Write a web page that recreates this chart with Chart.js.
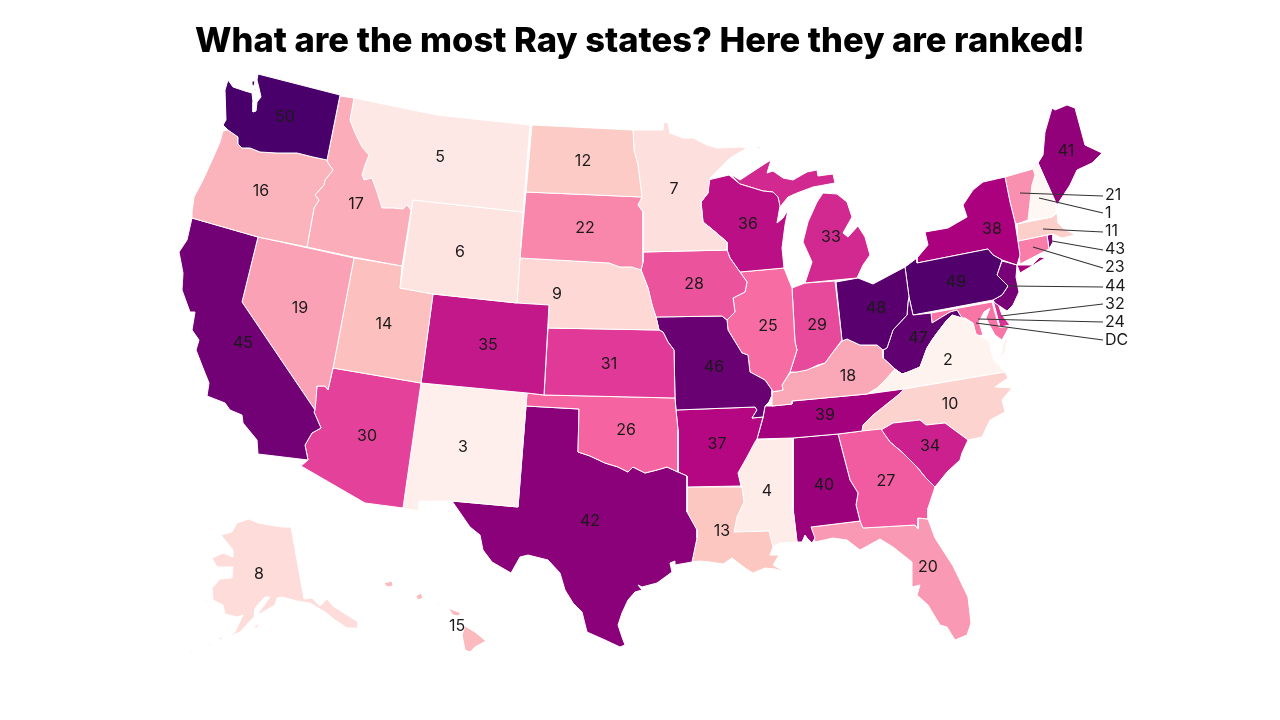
<!DOCTYPE html>
<html lang="en">
<head>
  <meta charset="UTF-8" />
  <title>Most Ray states</title>
  <script src="https://cdn.jsdelivr.net/npm/chart.js"></script>
  <style>
    html, body { margin: 0; background: #fff; }
    #wrap { position: relative; width: 1280px; height: 720px; overflow: hidden; }
    h1 { position: absolute; left: 0; top: 18px; width: 1280px; margin: 0; text-align: center;
         font: 800 34.5px Inter, "Open Sans", sans-serif; line-height: 44px; color: #000; }
  </style>
</head>
<body>
  <div id="wrap">
    <canvas id="map" width="1280" height="720"></canvas>
    <h1>What are the most Ray states? Here they are ranked!</h1>
  </div>
  <script>
    // Ranks
    const states = ['WA','OR','CA','ID','MT','WY','NV','UT','CO','AZ','NM','ND','SD','NE','KS','OK','TX','MN','IA','MO','AR','LA','WI','IL','MI','IN','OH','KY','TN','MS','AL','GA','FL','SC','NC','VA','WV','PA','NY','VT','NH','ME','MA','CT','RI','NJ','DE','MD','AK','HI'];
    const ranks  = [50,16,45,17,5,6,19,14,35,30,3,12,22,9,31,26,42,7,28,46,37,13,36,25,33,29,48,18,39,4,40,27,20,34,10,2,47,49,38,21,1,41,11,23,43,44,32,24,8,15];

    // Numbers printed inside the states
    const labelText = [50,16,45,17,5,6,19,14,35,30,3,12,22,9,31,26,42,7,28,46,37,13,36,25,33,29,48,18,39,4,40,27,20,34,10,2,47,49,38,41,8,15];
    const labelX = [285,261,243,356,440,460,300,384,488,367,463,583,585,557,609,626,590,674,694,714,717,722,748,768,831,817,876,848,825,767,824,886,928,930,950,948,918,956,992,1066,259,457];
    const labelY = [117,191,343,204,157,252,308,324,345,436,447,161,228,294,364,430,521,189,284,367,444,531,224,326,237,325,308,376,415,491,485,481,567,446,404,360,338,282,229,151,574,626];

    // Small states are called out on the right
    const calloutLabels = ['21','1','11','43','23','44','32','24','DC'];
    const calloutX = 1105;
    const calloutY = [195,213,231,249,267,286,304,322,340];
    const calloutFromX = [1020,1039,1043,1052,1033,1008,1001,978,976];
    const calloutFromY = [193,198,229,241,247,286,316,319,323];
    const calloutToX = [1103,1103,1103,1103,1103,1103,1103,1103,1103];
    const calloutToY = [196,213,232,250,268,287,304,322,340];

    // State outlines, one list per land piece
    const outlineWA = [[258,74,340,95,327,160,313,157,297,153,277,153,260,152,250,148,242,148,238,144,238,137,228,130,223,125,226,120,225,90,228,80,233,87,245,91,252,93,253,102,253,112,256,111,257,102,261,97,259,88,257,80,258,74],[252,81,255,81,254,86,252,85],[254,89,256,89,255,91]];
    const outlineOR = [[223,131,228,130,238,137,238,144,242,148,250,148,260,152,277,153,297,153,313,157,327,160,328,163,333,170,325,180,324,185,315,195,319,200,314,208,307,247,258,237,192,218,192,212,194,197,203,180,213,158,220,142]];
    const outlineCA = [[192,218,258,237,242,302,315,410,314,412,321,428,312,433,305,445,308,460,258,454,257,440,243,423,242,415,230,410,225,403,207,396,209,383,203,368,196,350,199,340,192,330,195,312,190,312,182,290,183,273,179,252,187,240]];
    const outlineID = [[340,96,354,98,350,120,355,133,362,147,369,155,365,165,362,175,364,180,372,178,377,192,382,208,393,208,403,209,407,205,411,210,402,266,353,257,307,247,314,208,319,200,315,195,324,185,325,180,333,170,328,163,327,160]];
    const outlineMT = [[354,98,437,115,530,125,523,212,413,200,411,210,407,205,403,209,393,208,382,208,377,192,372,178,364,180,362,175,365,165,369,155,362,147,355,133,350,120]];
    const outlineWY = [[413,200,523,212,517,303,433,294,400,288]];
    const outlineNV = [[258,237,354,258,333,368,328,390,325,386,317,386,316,400,315,410,242,302]];
    const outlineUT = [[354,258,402,266,400,288,433,294,421,383,333,368]];
    const outlineCO = [[433,294,517,303,549,305,544,395,527,393,421,383]];
    const outlineAZ = [[333,368,421,383,403,508,365,503,301,466,308,460,305,445,312,433,321,428,314,412,317,386,325,386,328,390]];
    const outlineNM = [[421,383,527,393,526,406,518,507,452,501,419,501,418,511,403,508]];
    const outlineND = [[532,125,633,130,634,150,638,165,642,197,526,192]];
    const outlineSD = [[526,192,642,197,638,205,643,212,643,252,643,262,641,270,632,267,620,267,609,263,520,258]];
    const outlineNE = [[520,258,609,263,620,267,632,267,641,270,648,288,652,305,656,317,659,330,548,328,549,305,517,303]];
    const outlineKS = [[548,328,659,330,663,332,668,342,674,350,675,398,544,395]];
    const outlineOK = [[527,393,544,395,675,398,676,410,678,430,678,472,667,467,657,470,645,473,633,467,628,472,618,467,605,463,590,456,578,452,579,409,526,406]];
    const outlineTX = [[526,406,579,409,578,452,590,456,605,463,618,467,628,472,633,467,645,473,657,470,667,467,678,472,687,476,687,512,697,530,697,538,692,562,675,565,675,561,670,563,672,572,657,583,642,587,638,585,642,590,635,592,628,600,622,613,618,625,622,637,625,645,620,647,605,640,587,632,582,612,573,603,565,590,560,573,548,560,528,555,520,557,511,573,492,562,483,550,480,535,470,527,452,501,518,507]];
    const outlineMN = [[633,130,663,130,664,122,668,123,670,133,683,138,693,138,707,145,717,148,740,147,747,148,730,158,710,178,708,193,701,202,703,222,713,230,727,242,727,250,643,252,643,212,638,205,642,197,638,165,634,150]];
    const outlineIA = [[643,252,727,250,730,258,740,272,747,282,745,292,733,298,735,312,727,320,722,316,656,317,652,305,648,288,641,270,643,262]];
    const outlineMO = [[656,317,722,316,727,320,728,330,742,353,748,355,750,372,765,380,772,390,772,395,769,402,765,406,763,417,752,418,757,410,755,407,676,410,675,398,674,350,668,342,663,332,659,330]];
    const outlineAR = [[676,410,755,407,757,410,752,418,763,417,757,439,755,442,747,457,738,473,741,486,687,487,687,476,678,472,678,430]];
    const outlineLA = [[687,487,742,487,744,502,737,517,734,532,769,531,773,547,770,555,779,555,773,565,785,572,775,569,765,568,753,573,745,568,732,558,723,564,710,562,700,561,690,562,692,562,697,538,697,530,687,512]];
    const outlineWI = [[708,180,729,175,740,184,763,191,773,192,778,197,780,206,777,223,783,218,788,210,785,225,782,248,784,268,740,272,730,258,727,250,727,242,713,230,703,222,701,202,708,193]];
    const outlineIL = [[740,272,784,268,792,288,795,342,797,350,790,372,782,385,783,390,772,392,772,390,765,380,750,372,748,355,742,353,728,330,727,320,735,312,733,298,745,292,747,282]];
    const outlineMI = [[730,174,740,180,766,163,771,160,767,173,773,171,783,178,793,180,807,172,817,170,818,176,833,174,835,183,813,187,797,193,788,197,780,207,778,197,773,192,763,191,740,184],[823,193,837,194,847,202,852,217,843,233,848,237,858,226,865,237,870,255,863,265,857,278,805,283,812,262,803,242,808,222,817,202],[756,149,760,146,759,148]];
    const outlineIN = [[792,288,805,283,835,281,842,340,833,352,825,363,818,365,807,370,797,372,790,372,797,350,795,342]];
    const outlineOH = [[836,282,858,278,873,284,905,267,909,297,908,302,907,315,893,330,887,348,883,350,877,345,860,345,847,339,842,341]];
    const outlineKY = [[842,341,847,339,860,345,877,345,883,350,883,358,895,369,885,380,877,388,867,394,792,401,792,404,772,406,772,392,783,390,782,385,790,373,805,370,818,366,825,363,833,352]];
    const outlineTN = [[772,406,792,404,792,401,867,394,904,389,898,395,888,403,873,415,863,425,862,431,838,434,793,438,757,439,763,418,765,406]];
    const outlineMS = [[755,440,793,438,793,508,797,542,780,543,772,547,769,531,734,532,737,517,744,502,742,487,738,473,743,462,750,450]];
    const outlineAL = [[793,438,838,434,850,480,858,493,856,505,860,521,811,527,815,538,812,543,807,538,805,535,802,542,797,542,793,508]];
    const outlineGA = [[838,434,862,431,881,429,890,442,903,453,917,467,925,477,935,487,928,508,928,519,918,518,918,529,915,525,863,528,860,521,856,505,858,493,850,480]];
    const outlineFL = [[811,527,860,521,863,528,915,525,918,529,918,518,928,519,935,538,953,566,968,597,971,623,967,635,955,640,947,627,940,625,928,605,917,595,920,585,912,587,912,562,893,547,880,539,860,550,847,540,833,538,815,542]];
    const outlineSC = [[881,430,893,423,920,420,926,425,945,423,968,440,962,453,960,460,947,472,935,487,925,477,917,467,903,453,890,442]];
    const outlineNC = [[904,389,1005,372,1008,378,995,387,1012,388,1002,400,1005,412,990,420,982,437,968,440,945,423,926,425,920,420,893,423,881,430,862,431,863,425,873,415,888,403,898,395]];
    const outlineVA = [[867,394,877,388,885,380,895,369,902,374,908,372,920,367,927,348,932,340,937,333,947,320,952,315,962,318,973,323,976,334,984,338,990,342,992,355,994,360,1005,372,904,389],[1003,343,1008,337,1005,352,1000,358]];
    const outlineWV = [[909,297,913,315,931,313,932,323,950,312,957,310,962,318,952,315,947,320,937,333,932,340,927,348,920,367,908,372,902,374,895,369,883,358,883,350,887,348,893,330,907,315,908,302]];
    const outlinePA = [[905,267,917,258,917,263,988,249,993,255,1002,260,997,275,1008,286,1002,295,993,300,913,315,909,297]];
    const outlineNY = [[917,258,917,263,988,249,993,255,1002,260,1017,265,1020,255,1015,222,1010,202,1005,177,983,182,973,190,963,205,967,217,948,228,925,232,928,245],[1017,265,1020,273,1045,258,1040,257,1032,265]];
    const outlineVT = [[1005,177,1033,169,1035,175,1032,185,1028,220,1017,224,1015,222,1010,202]];
    const outlineNH = [[1033,169,1034,163,1038,163,1052,195,1057,210,1052,217,1028,220,1032,185,1035,175]];
    const outlineME = [[1038,163,1043,155,1045,132,1052,108,1055,110,1067,105,1075,108,1085,145,1102,153,1092,163,1077,170,1070,185,1057,205]];
    const outlineMA = [[1017,224,1052,217,1057,213,1058,223,1063,228,1075,235,1062,238,1053,234,1047,235,1018,241]];
    const outlineCT = [[1018,241,1047,235,1049,249,1020,264]];
    const outlineRI = [[1047,235,1053,234,1053,242,1049,249]];
    const outlineNJ = [[1002,261,1017,265,1016,277,1019,292,1013,305,1007,311,995,303,993,300,1002,295,1008,286,997,275]];
    const outlineDE = [[993,300,996,298,1002,315,1010,325,1000,327]];
    const outlineMD = [[931,313,992,302,999,327,1009,327,1002,340,995,335,990,326,986,318,990,308,984,312,979,322,983,335,976,336,973,323,965,318,962,318,957,310,950,312,932,323]];
    const outlineAK = [[249,519,258,523,282,527,291,527,304,599,312,598,320,606,327,599,333,606,358,622,358,628,347,628,335,620,325,612,310,603,297,601,282,597,277,598,275,605,263,612,257,615,270,597,265,597,255,608,254,617,240,632,228,637,235,632,243,615,237,617,225,614,223,605,213,600,212,588,220,579,232,578,233,567,217,567,212,558,223,553,233,557,233,550,221,535,232,532,237,523],[253,628,260,622,257,628],[218,638,225,637,220,640],[207,645,213,643,209,646],[195,572,202,575,198,574],[205,600,210,602,206,602],[188,652,197,648,191,652]];
    const outlineHI = [[465,626,475,632,486,641,475,647,470,652,465,650,462,635],[448,608,453,610,461,613,458,616,453,615],[435,604,440,603,440,605],[416,596,421,593,423,598,418,600],[384,583,392,581,393,586,387,587]];
    const outlines = [outlineWA,outlineOR,outlineCA,outlineID,outlineMT,outlineWY,outlineNV,outlineUT,outlineCO,outlineAZ,outlineNM,outlineND,outlineSD,outlineNE,outlineKS,outlineOK,outlineTX,outlineMN,outlineIA,outlineMO,outlineAR,outlineLA,outlineWI,outlineIL,outlineMI,outlineIN,outlineOH,outlineKY,outlineTN,outlineMS,outlineAL,outlineGA,outlineFL,outlineSC,outlineNC,outlineVA,outlineWV,outlinePA,outlineNY,outlineVT,outlineNH,outlineME,outlineMA,outlineCT,outlineRI,outlineNJ,outlineDE,outlineMD,outlineAK,outlineHI];

    const rampColors = ['#fff7f3','#fde0dd','#fcc5c0','#fa9fb5','#f768a1','#dd3497','#ae017e','#7a0177','#49006a'];

    function rankColor(rank){
      const t = (rank-1)/49*(rampColors.length-1), i = Math.min(Math.floor(t), rampColors.length-2), f = t-i;
      const a = rampColors[i], b = rampColors[i+1];
      const mix = s => Math.round(parseInt(a.substr(s,2),16)*(1-f) + parseInt(b.substr(s,2),16)*f);
      return `rgb(${mix(1)},${mix(3)},${mix(5)})`;
    }
    function toPoints(flat){
      const pts = [];
      for(let i=0;i<flat.length;i+=2) pts.push({x:flat[i], y:flat[i+1]});
      pts.push({x:flat[0], y:flat[1]});
      return pts;
    }

    // One filled dataset per land piece
    const datasets = [];
    states.forEach((s,i) => {
      outlines[i].forEach(piece => {
        datasets.push({label:s, data:toPoints(piece), showLine:true, fill:'shape', backgroundColor:rankColor(ranks[i]), borderColor:'#fff', borderWidth:1, pointRadius:0, pointHitRadius:0, tension:0, order:1});
      });
    });
    // Leader lines
    calloutLabels.forEach((l,i) => {
      datasets.push({label:'leader '+l, data:[{x:calloutFromX[i],y:calloutFromY[i]},{x:calloutToX[i],y:calloutToY[i]}], showLine:true, fill:false, borderColor:'#333', borderWidth:1.2, pointRadius:0, order:0});
    });

    const textPlugin = {
      id:'mapText',
      afterDatasetsDraw(chart){
        const {ctx, scales:{x,y}} = chart;
        ctx.save();
        ctx.fillStyle = '#1a1a1a';
        ctx.font = '16px Inter, "Open Sans", sans-serif';
        ctx.textBaseline = 'middle';
        ctx.textAlign = 'center';
        labelText.forEach((t,i) => ctx.fillText(String(t), x.getPixelForValue(labelX[i]), y.getPixelForValue(labelY[i])));
        ctx.textAlign = 'left';
        calloutLabels.forEach((l,i) => ctx.fillText(l, x.getPixelForValue(calloutX), y.getPixelForValue(calloutY[i])));
        ctx.restore();
      }
    };

    new Chart(document.getElementById('map'), {
      type:'scatter',
      data:{datasets},
      options:{
        responsive:false, animation:false, layout:{padding:0},
        plugins:{legend:{display:false}, tooltip:{enabled:false}},
        scales:{
          x:{display:false, min:0, max:1280},
          y:{display:false, min:0, max:720, reverse:true}
        }
      },
      plugins:[textPlugin]
    });
  </script>
</body>
</html>
